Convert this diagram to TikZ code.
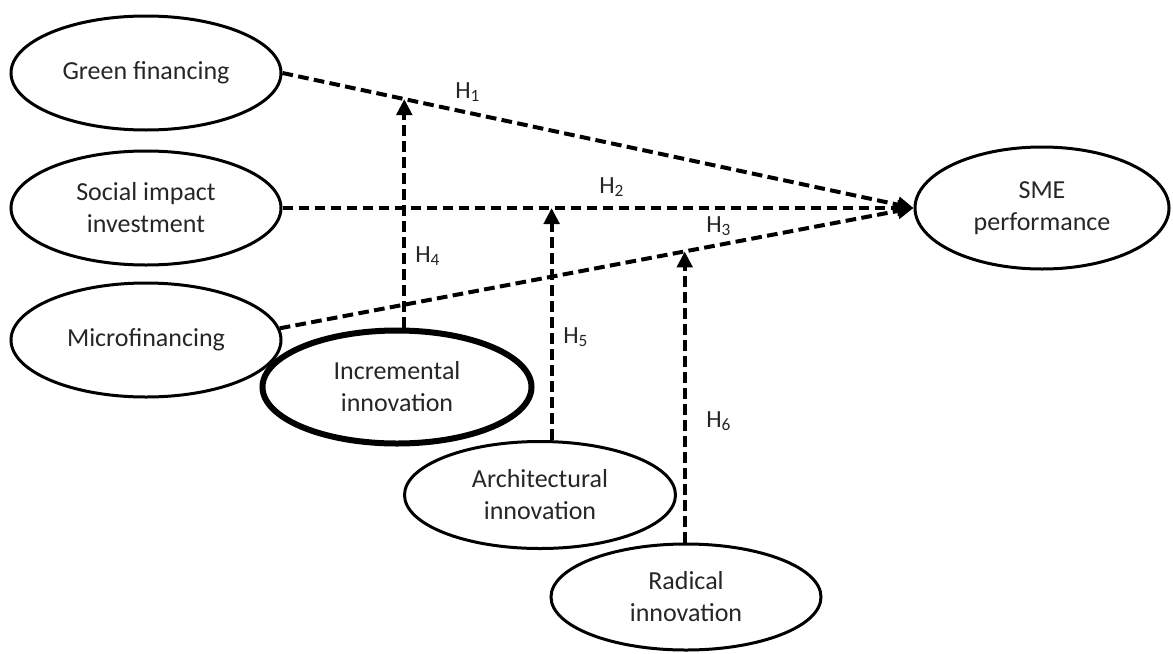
\documentclass[tikz,border=0pt]{standalone}
\usepackage{fontspec}
\setmainfont{Carlito}
\usetikzlibrary{arrows.meta,calc,shapes.geometric}
\begin{document}
\begin{tikzpicture}[x=0.75pt,y=-0.75pt,
  var/.style={ellipse,draw,line width=2.25pt,inner sep=0pt,minimum width=202.5pt,minimum height=85.5pt,align=center,text=black!85,font=\fontsize{19.5pt}{24pt}\selectfont},
  dep/.style={draw,line width=3pt,dash pattern=on 8pt off 4pt,-{Triangle[length=12pt,width=11.5pt]}},
  hyp/.style={anchor=base west,inner sep=0pt,text=black!85,font=\fontsize{18.5pt}{22pt}\selectfont}]
\useasboundingbox (0,0) rectangle (1173,653);
% constructs
\node[var] (green) at (146,73) {Green financing};
\node[var] (social) at (146,208) {Social impact\\investment};
\node[var] (micro) at (146,340) {Microfinancing};
\node[var,minimum width=190.5pt,minimum height=91.5pt] (sme) at (1042,208) {SME\\performance};
\node[var,line width=4.5pt,minimum width=201.75pt,minimum height=84.75pt] (incr) at (397,387) {Incremental\\innovation};
\node[var,minimum width=203.25pt,minimum height=80.25pt] (arch) at (540,495) {Architectural\\innovation};
\node[var,minimum width=202.5pt,minimum height=79.5pt] (rad) at (686,597) {Radical\\innovation};
% direct paths
\draw[dep] (green.east) -- (sme.west);
\draw[dep] (social.east) -- (sme.west);
\draw[dep] (micro.5) -- (sme.west);
% moderation points
\coordinate (t4) at ($(green.east)!0.193!(sme.west)$);
\coordinate (t5) at ($(social.east)!0.4265!(sme.west)$);
\coordinate (t6) at ($(micro.5)!0.639!(sme.west)$);
\draw[dep] (t4 |- incr.north) -- (t4);
\draw[dep] (t5 |- arch.north) -- (t5);
\draw[dep] (t6 |- rad.north) -- (t6);
% labels
\node[hyp] (h1) at (455,98) {H\textsubscript{1}};
\node[hyp] (h2) at (599,193) {H\textsubscript{2}};
\node[hyp] (h3) at (706,232) {H\textsubscript{3}};
\node[hyp] (h4) at (415,262) {H\textsubscript{4}};
\node[hyp] (h5) at (563,343) {H\textsubscript{5}};
\node[hyp] (h6) at (706,427) {H\textsubscript{6}};
\end{tikzpicture}
\end{document}
